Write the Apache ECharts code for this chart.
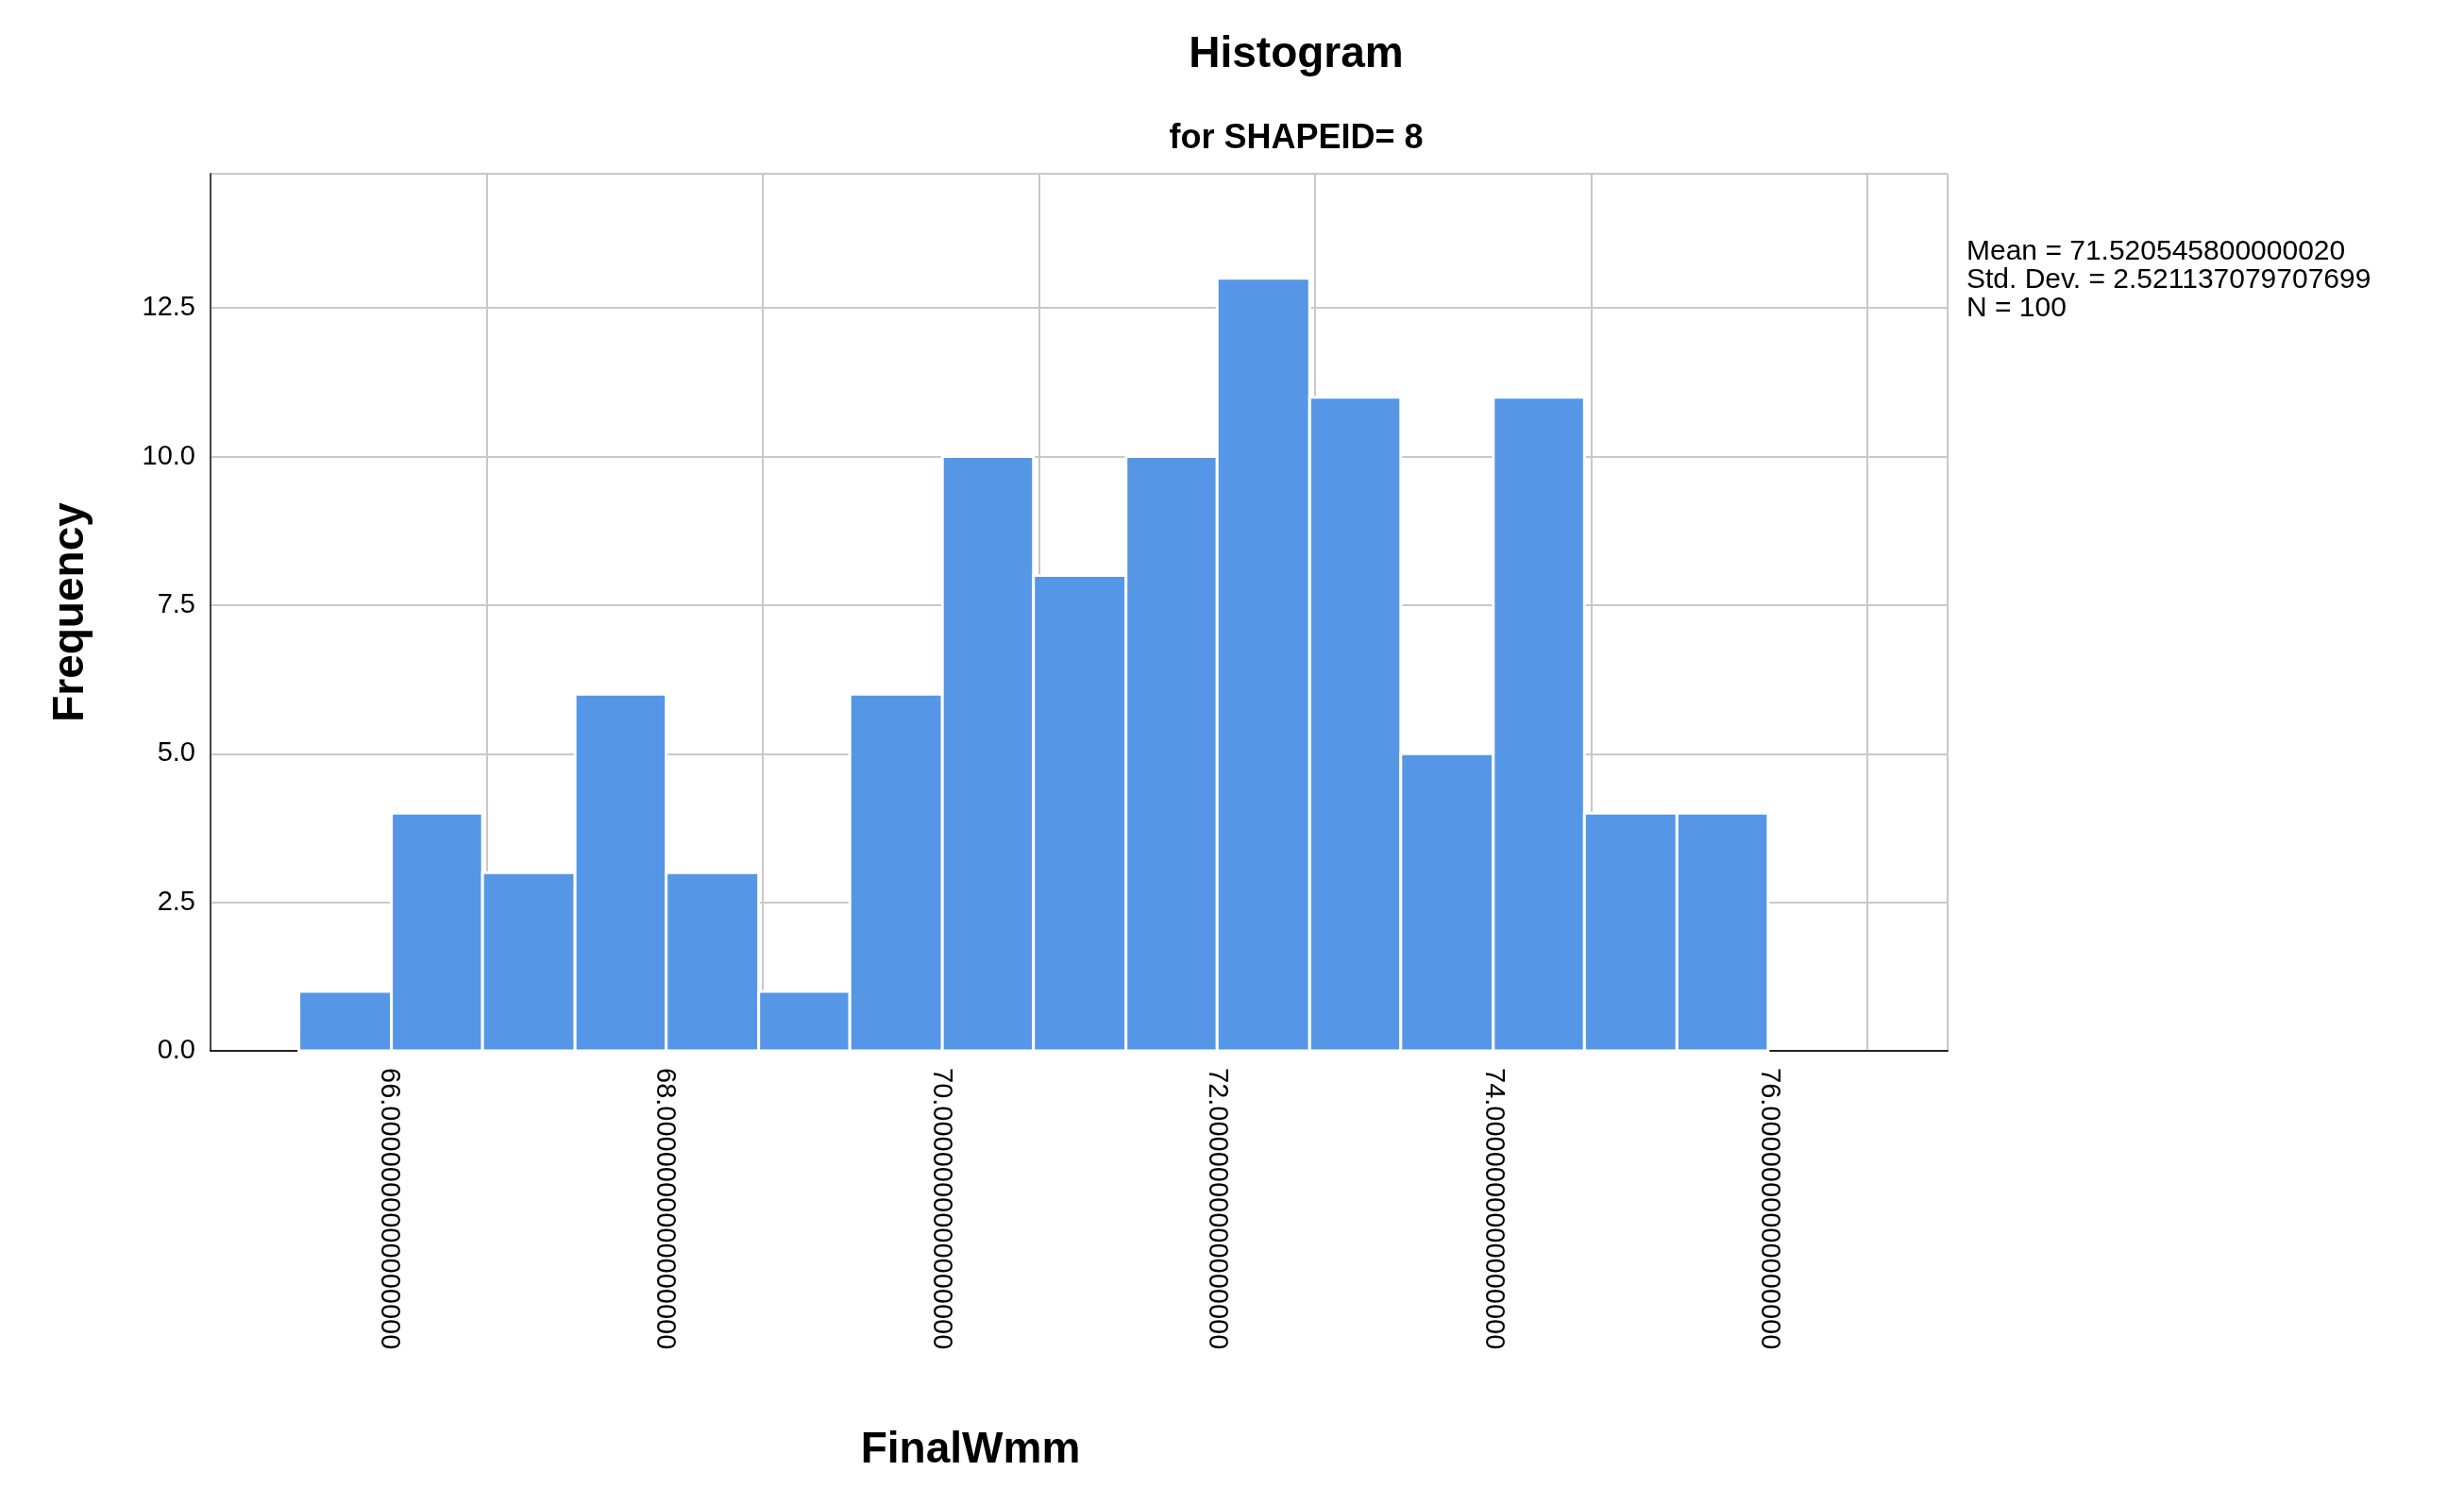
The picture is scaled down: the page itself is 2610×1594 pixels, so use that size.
<!DOCTYPE html>
<html><head><meta charset="utf-8">
<script src="https://cdn.jsdelivr.net/npm/echarts@6/dist/echarts.min.js"></script>
<style>html,body{margin:0;background:#fff}#c{width:2610px;height:1594px}</style>
</head><body><div id="c"></div>
<script>
const binStarts = [65.35, 66.02, 66.68, 67.35, 68.01, 68.68, 69.34, 70.01, 70.67, 71.34, 72.00, 72.67, 73.33, 74.00, 74.66, 75.33]
const binEnds   = [66.02, 66.68, 67.35, 68.01, 68.68, 69.34, 70.01, 70.67, 71.34, 72.00, 72.67, 73.33, 74.00, 74.66, 75.33, 75.99]
const counts    = [1, 4, 3, 6, 3, 1, 6, 10, 8, 10, 13, 11, 5, 11, 4, 4]
const statsText = ['Mean = 71.520545800000020', 'Std. Dev. = 2.521137079707699', 'N = 100']

const chart = echarts.init(document.getElementById('c'))
const FONT = 'Arial, "Liberation Sans", sans-serif'

chart.setOption({
  backgroundColor: '#fff',
  animation: false,
  title: [
    { text: 'Histogram', left: 1368, top: 30, textAlign: 'center',
      textStyle: { fontFamily: FONT, fontSize: 46, fontWeight: 'bold', color: '#000' } },
    { text: 'for SHAPEID= 8', left: 1368, top: 124, textAlign: 'center',
      textStyle: { fontFamily: FONT, fontSize: 36, fontWeight: 'bold', color: '#000' } },
  ],
  graphic: [{
    type: 'text', left: 2083, top: 252,
    style: { text: statsText.join('\n'), font: '30px ' + FONT, fill: '#000', lineHeight: 30 }
  }],
  grid: { left: 223, right: 547, top: 184, bottom: 481 },
  xAxis: {
    type: 'value', min: 64.71, max: 77.29, interval: 2,
    name: 'FinalWmm', nameLocation: 'middle', nameGap: 400,
    nameTextStyle: { fontFamily: FONT, fontSize: 46, fontWeight: 'bold', color: '#000', padding: [0, 230, 0, 0] },
    axisLine: { lineStyle: { color: '#222', width: 2 } },
    axisTick: { show: false },
    axisLabel: {
      rotate: -90, fontFamily: FONT, fontSize: 29, color: '#000', margin: 18,
      customValues: [66, 68, 70, 72, 74, 76],
      formatter: v => v.toFixed(16)
    },
    splitLine: { show: true, lineStyle: { color: '#c8c8c8', width: 2 } },
    customValues: [66, 68, 70, 72, 74, 76]
  },
  yAxis: {
    type: 'value', min: 0, max: 14.76, interval: 2.5,
    name: 'Frequency', nameLocation: 'middle', nameGap: 125,
    nameTextStyle: { fontFamily: FONT, fontSize: 46, fontWeight: 'bold', color: '#000' },
    axisLine: { show: true, lineStyle: { color: '#444', width: 2 } },
    axisTick: { show: false },
    axisLabel: { fontFamily: FONT, fontSize: 29, color: '#000', margin: 16,
      formatter: v => v.toFixed(1), showMaxLabel: false },
    splitLine: { lineStyle: { color: '#c8c8c8', width: 2 } }
  },
  series: [{
    type: 'custom',
    data: counts.map((c, i) => [binStarts[i], binEnds[i], c]),
    encode: { x: [0, 1], y: 2 },
    renderItem: (params, api) => {
      const p0 = api.coord([api.value(0), api.value(2)])
      const p1 = api.coord([api.value(1), 0])
      return {
        type: 'rect',
        shape: { x: p0[0], y: p0[1], width: p1[0] - p0[0], height: p1[1] - p0[1] },
        style: { fill: '#5596e6', stroke: '#ffffff', lineWidth: 3 }
      }
    }
  }]
})
</script></body></html>
